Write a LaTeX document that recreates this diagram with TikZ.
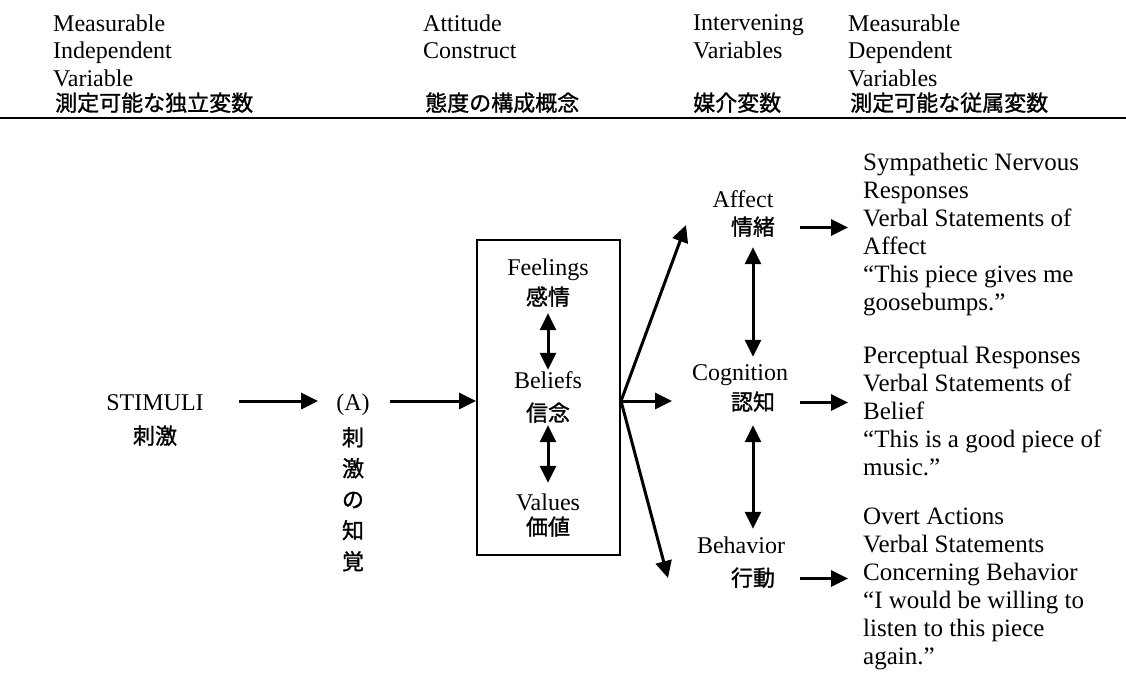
\documentclass[tikz,border=0pt]{standalone}
\usepackage{fontspec}
\setmainfont{Liberation Serif}
\newfontfamily\jp[FakeBold=1.2]{Noto Sans CJK JP}
\usetikzlibrary{arrows.meta}
\begin{document}
\begin{tikzpicture}[x=1pt,y=-1pt,
  en/.style={font=\fontsize{24}{28}\selectfont, inner sep=0pt, text height=18pt, text depth=0pt, anchor=base},
  jt/.style={font=\jp\fontsize{22}{28}\selectfont, inner sep=0pt, text height=18pt, text depth=3pt, anchor=base},
  head/.style={font=\fontsize{24}{27.5}\selectfont, inner sep=0pt, align=left, anchor=north west},
  headj/.style={font=\jp\fontsize{22}{28}\selectfont, inner sep=0pt, anchor=base west},
  resp/.style={font=\fontsize{25}{28}\selectfont, inner sep=0pt, align=left, anchor=north west},
  arr/.style={line width=3pt, -{Triangle[length=17pt,width=16pt]}},
  darr/.style={line width=3pt, {Triangle[length=17pt,width=16pt]}-{Triangle[length=17pt,width=16pt]}},
]
\useasboundingbox (0,0) rectangle (1126,680);

% header
\node[head] (h1) at (53,14.6) {Measurable\\Independent\\Variable};
\node[headj] (j1) at (55,111) {測定可能な独立変数};
\node[head] (h2) at (423,14.6) {Attitude\\Construct};
\node[headj] (j2) at (425,111) {態度の構成概念};
\node[head] (h3) at (693,14.6) {Intervening\\Variables};
\node[headj] (j3) at (693,111) {媒介変数};
\node[head] (h4) at (848,14.6) {Measurable\\Dependent\\Variables};
\node[headj] (j4) at (850,111) {測定可能な従属変数};
\draw[line width=2pt] (0,118) -- (1126,118);

% stimuli
\node[en] (stim) at (155,410) {STIMULI};
\node[jt] (stimj) at (155,444) {刺激};
\node[en] (A) at (353,410) {(A)};
\node[font=\jp\fontsize{22}{31}\selectfont, inner sep=0pt, align=center, anchor=north] (Aj) at (353,427) {刺\\激\\の\\知\\覚};

% box
\node[draw, line width=2pt, minimum width=143pt, minimum height=315pt, inner sep=0pt] (box) at (548.5,397.5) {};
\node[en] (feel) at (548,275) {Feelings};
\node[jt] (feelj) at (548,305) {感情};
\node[en] (bel) at (548,388) {Beliefs};
\node[jt] (belj) at (548,421) {信念};
\node[en] (val) at (548,510) {Values};
\node[jt] (valj) at (548,535) {価値};

% intervening
\node[en] (aff) at (743,207) {Affect};
\node[jt] (affj) at (753,235) {情緒};
\node[en] (cog) at (740,380) {Cognition};
\node[jt] (cogj) at (753,410) {認知};
\node[en] (beh) at (741,553) {Behavior};
\node[jt] (behj) at (753,586) {行動};

% responses
\node[resp] (r1) at (863,153) {Sympathetic Nervous\\Responses\\Verbal Statements of\\Affect\\“This piece gives me\\goosebumps.”};
\node[resp] (r2) at (863,346) {Perceptual Responses\\Verbal Statements of\\Belief\\“This is a good piece of\\music.”};
\node[resp] (r3) at (863,508) {Overt Actions\\Verbal Statements\\Concerning Behavior\\“I would be willing to\\listen to this piece\\again.”};

\coordinate (tA) at (686,225);
\coordinate (tC) at (672,401);
\coordinate (tB) at (668,578);
\coordinate (bx) at (box.east |- A.east);

% connectors
\draw[arr, shorten <=35pt, shorten >=18pt] (stim.east) -- (A.west);
\draw[arr, shorten <=20pt] (A.east) -- (A.east -| box.west);
\draw[darr, shorten <=5pt] (feelj.south) -- (bel.north);
\draw[darr, shorten <=1pt, shorten >=9pt] (belj.south) -- (val.north);
\draw[arr] (bx) -- (tA);
\draw[arr] (bx) -- (tC);
\draw[arr] (bx) -- (tB);
\draw[darr, shorten <=9pt, shorten >=5pt] (affj.south) -- (affj.south |- cog.north);
\draw[darr, shorten <=12pt, shorten >=6pt] (cogj.south) -- (cogj.south |- beh.north);
\draw[arr, shorten <=25pt, shorten >=15pt] (affj.east) -- (affj.east -| r1.west);
\draw[arr, shorten <=25pt, shorten >=15pt] (cogj.east) -- (cogj.east -| r2.west);
\draw[arr, shorten <=25pt, shorten >=15pt] (behj.east) -- (behj.east -| r3.west);
\end{tikzpicture}
\end{document}
